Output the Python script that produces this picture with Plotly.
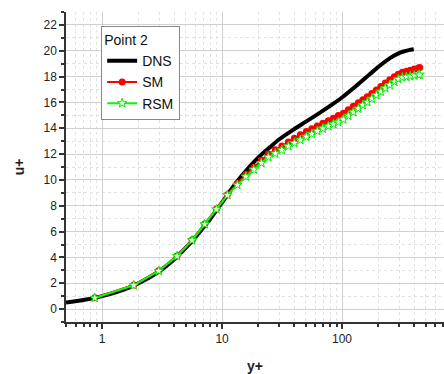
import plotly.graph_objects as go

# DNS profile
dns_y = [0.5, 0.7, 1, 1.5, 2, 3, 4, 5, 6, 7, 8, 10, 12, 15, 20, 25, 30, 40, 50, 66, 80, 100,
         130, 172, 210, 251, 290, 325, 360, 396]
dns_u = [0.5, 0.7, 1.0, 1.49, 1.98, 2.93, 3.86, 4.75, 5.57, 6.33, 7.0, 8.25, 9.3, 10.45, 11.72,
         12.52, 13.15, 13.94, 14.51, 15.23, 15.75, 16.38, 17.25, 18.22, 18.9, 19.43, 19.76,
         19.94, 20.05, 20.12]

# model cell-centre y+ positions
model_y = [0.868, 1.834, 2.963, 4.217, 5.623, 7.161, 8.967, 11.07, 13.41, 15.79, 18.41, 21.26,
           24.31, 27.80, 31.48, 35.69, 40.05, 44.93, 50.41, 56.0, 62.2, 69.2, 76.9, 84.6, 93.1,
           102.5, 112.9, 124.2, 136.7, 149.0, 162.4, 177.2, 193.2, 210.5, 229.5, 250.0, 272.9,
           294.4, 318.1, 343.6, 370.7, 400.4, 432.5, 444.0]
sm_u = [0.88, 1.86, 2.97, 4.11, 5.35, 6.59, 7.75, 8.86, 9.72, 10.42, 10.98, 11.53, 12.0, 12.33,
        12.63, 12.94, 13.22, 13.5, 13.74, 13.96, 14.18, 14.39, 14.59, 14.78, 14.98, 15.17, 15.43,
        15.7, 15.97, 16.2, 16.44, 16.69, 16.96, 17.23, 17.5, 17.75, 17.98, 18.19, 18.34, 18.42,
        18.5, 18.59, 18.67, 18.7]
rsm_u = [0.86, 1.84, 2.95, 4.1, 5.33, 6.57, 7.72, 8.82, 9.61, 10.26, 10.8, 11.31, 11.76, 12.05,
         12.32, 12.6, 12.85, 13.1, 13.34, 13.56, 13.78, 13.98, 14.16, 14.32, 14.48, 14.68, 14.96,
         15.24, 15.52, 15.78, 16.03, 16.29, 16.56, 16.83, 17.1, 17.35, 17.59, 17.8, 17.93, 17.98,
         18.03, 18.08, 18.13, 18.15]

x_major = [1, 10, 100]
x_minor = [0.5, 0.6, 0.7, 0.8, 0.9, 2, 3, 4, 5, 6, 7, 8, 9, 20, 30, 40, 50, 60, 70, 80, 90,
           200, 300, 400, 500, 600, 700]

fig = go.Figure()
fig.add_trace(go.Scatter(x=dns_y, y=dns_u, mode="lines", name="DNS",
                         line=dict(color="black", width=4, shape="spline", smoothing=0.8)))
fig.add_trace(go.Scatter(x=model_y, y=sm_u, mode="lines+markers", name="SM",
                         line=dict(color="#ff0000", width=2),
                         marker=dict(symbol="circle", size=7, color="#ff0000")))
fig.add_trace(go.Scatter(x=model_y, y=rsm_u, mode="lines+markers", name="RSM",
                         line=dict(color="#00ff00", width=2),
                         marker=dict(symbol="star", size=7, color="white",
                                     line=dict(color="#00ee00", width=1))))

font = "Liberation Sans, Arial, sans-serif"
fig.update_layout(
    width=444, height=374,
    margin=dict(l=66, r=0, t=12, b=52),
    paper_bgcolor="white", plot_bgcolor="white",
    font=dict(family=font, size=12, color="#222"),
    showlegend=True,
    legend=dict(x=0.093, y=0.955, xanchor="left", yanchor="top",
                bgcolor="white", bordercolor="#888", borderwidth=1,
                title=dict(text="Point 2", font=dict(size=14, color="#111")),
                font=dict(size=14, color="#111"),
                tracegroupgap=0, itemwidth=30),
    xaxis=dict(type="log", range=[-0.301, 2.85],
               tickmode="array", tickvals=x_major, ticktext=["1", "10", "100"],
               ticks="outside", ticklen=5, tickwidth=1.5, tickcolor="#333",
               showline=True, linecolor="#333", linewidth=1.5,
               showgrid=True, gridcolor="#d0d0d0", gridwidth=1,
               zeroline=False,
               minor=dict(tickmode="array", tickvals=x_minor, ticks="outside", ticklen=3,
                          tickcolor="#333", showgrid=True, gridcolor="#e2e2e2",
                          griddash="dot", gridwidth=1),
               title=dict(text="<b>y+</b>", font=dict(size=14, color="#222"), standoff=16)),
    yaxis=dict(range=[-1, 23], tickmode="linear", tick0=0, dtick=2,
               ticks="outside", ticklen=5, tickwidth=1.5, tickcolor="#333",
               showline=True, linecolor="#333", linewidth=1.5,
               showgrid=True, gridcolor="#d0d0d0", gridwidth=1,
               zeroline=False,
               minor=dict(dtick=1, ticks="outside", ticklen=3, tickcolor="#333",
                          showgrid=True, gridcolor="#e2e2e2", griddash="dot", gridwidth=1),
               title=dict(text="<b>u+</b>", font=dict(size=14, color="#222"), standoff=16)),
)

fig.write_html("out.html")
